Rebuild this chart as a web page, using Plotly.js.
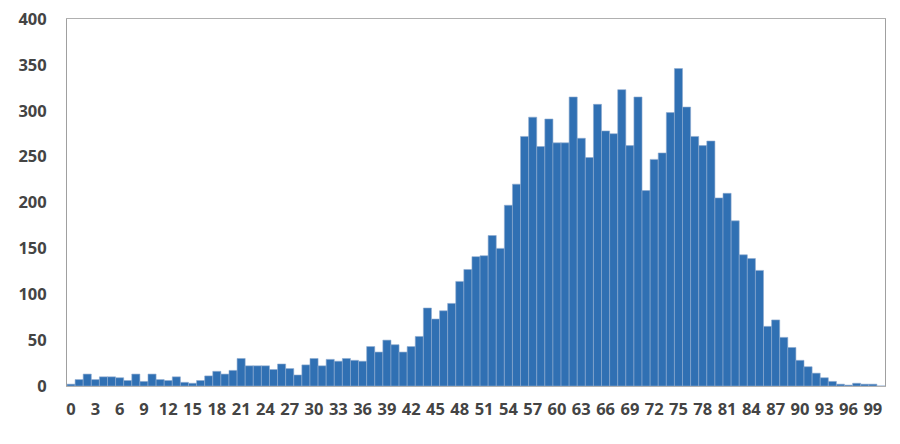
<!DOCTYPE html>
<html>
<head>
<meta charset="utf-8">
<script src="https://cdn.plot.ly/plotly-3.0.1.min.js"></script>
<style>
  html, body { margin: 0; padding: 0; background: #ffffff; }
  #chart { width: 900px; height: 444px; }
</style>
</head>
<body>
<div id="chart"></div>
<script>
// Categories 0..100 (the last slot is empty)
const categories = [];
for (let i = 0; i <= 100; i++) categories.push(i);

const counts = [
  2, 7, 13, 7, 10, 10, 9, 6, 13, 5,
  13, 7, 6, 10, 4, 3, 6, 11, 16, 13,
  17, 30, 22, 22, 22, 18, 24, 19, 12, 23,
  30, 22, 29, 27, 30, 28, 27, 43, 37, 50,
  45, 37, 43, 54, 85, 73, 82, 90, 114, 127,
  141, 142, 164, 150, 197, 220, 272, 293, 261, 291,
  265, 265, 315, 270, 249, 307, 278, 275, 323, 262,
  315, 213, 247, 254, 298, 346, 304, 272, 262, 267,
  205, 210, 180, 143, 139, 126, 65, 72, 53, 42,
  28, 21, 14, 9, 5, 2, 1, 3, 2, 2,
  0
];

const yTicks = [0, 50, 100, 150, 200, 250, 300, 350, 400];
const xLabelVals = categories.filter(c => c % 3 === 0 && c < 100);
const xLabelText = xLabelVals.map(String);
const xTickMarks = categories.filter(c => c % 5 === 0).map(c => c - 0.5);

const labelFont = { family: 'Open Sans, sans-serif', size: 16.5, color: '#444444', weight: 700 };

const trace = {
  type: 'bar',
  x: categories,
  y: counts,
  marker: { color: '#3070B3', line: { color: '#8fabd0', width: 0.6 } },
  width: 1,
  hoverinfo: 'x+y'
};

const layout = {
  width: 900,
  height: 444,
  margin: { l: 67, r: 15, t: 19, b: 58 },
  paper_bgcolor: '#ffffff',
  plot_bgcolor: '#ffffff',
  showlegend: false,
  bargap: 0,
  xaxis: {
    range: [-0.5, 100.5],
    tickmode: 'array',
    tickvals: xLabelVals,
    ticktext: xLabelText,
    ticks: '',
    showgrid: false,
    zeroline: false,
    showline: true,
    mirror: true,
    linecolor: '#b0b0b0',
    linewidth: 1,
    tickfont: labelFont,
    ticklabelstandoff: 8,
    fixedrange: true
  },
  xaxis2: {
    overlaying: 'x',
    anchor: 'y',
    side: 'bottom',
    range: [-0.5, 100.5],
    tickmode: 'array',
    tickvals: xTickMarks,
    ticks: 'outside',
    ticklen: 5,
    tickcolor: '#bfbfbf',
    showticklabels: false,
    showgrid: false,
    zeroline: false,
    showline: false
  },
  yaxis: {
    range: [0, 400],
    tickmode: 'array',
    tickvals: yTicks,
    ticktext: yTicks.map(String),
    ticks: '',
    showgrid: false,
    zeroline: false,
    showline: true,
    mirror: true,
    linecolor: '#a0a0a0',
    linewidth: 1,
    tickfont: labelFont,
    ticklabelstandoff: 16,
    fixedrange: true
  }
};

Plotly.newPlot('chart', [trace], layout, { displayModeBar: false, staticPlot: true });
</script>
</body>
</html>
